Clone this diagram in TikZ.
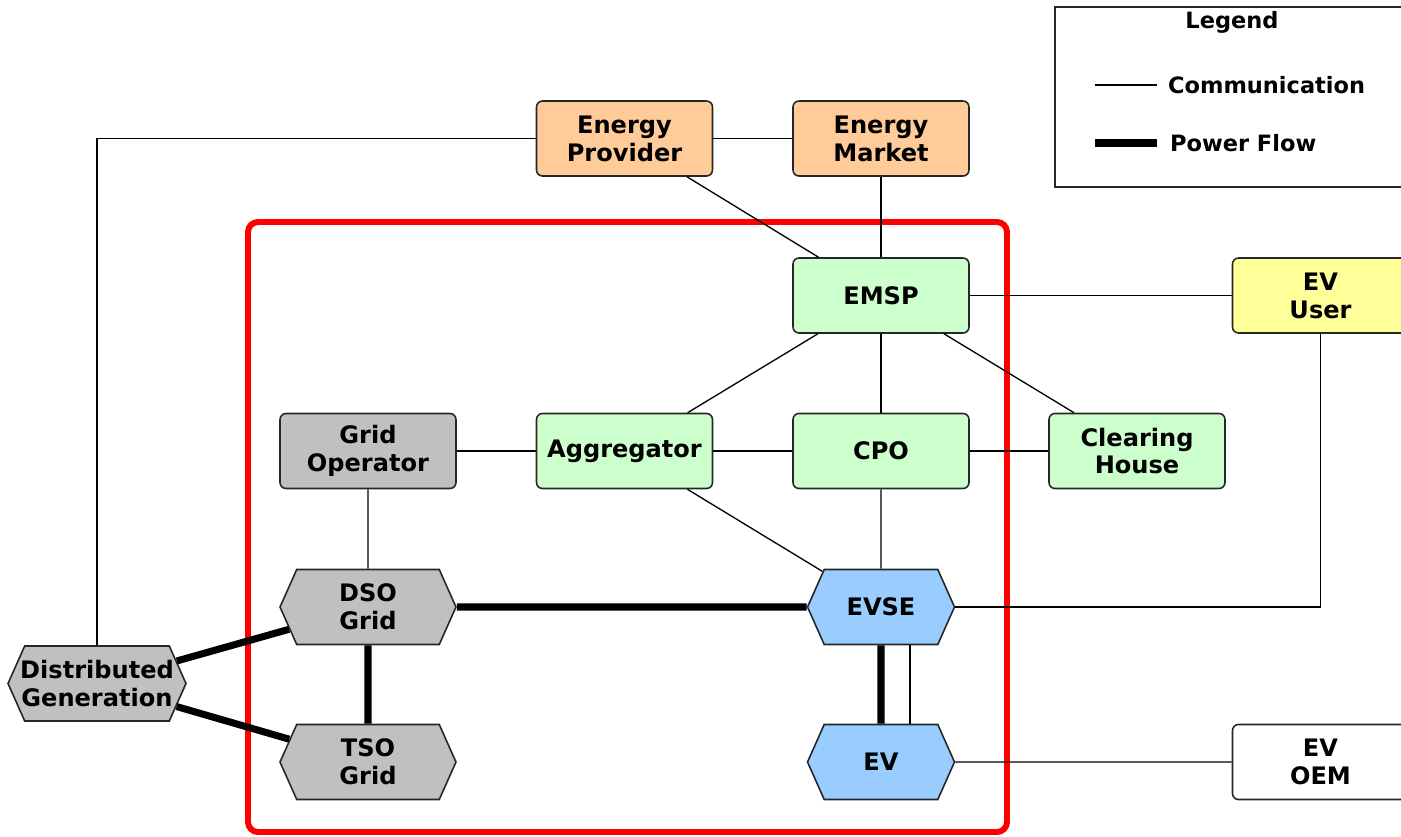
\documentclass[tikz,border=0pt]{standalone}
\usepackage{fontspec}
\setmainfont{DejaVu Sans}
\usetikzlibrary{shapes.symbols}

\definecolor{marketfill}{HTML}{FFCC99}
\definecolor{servicefill}{HTML}{CCFFCC}
\definecolor{gridfill}{HTML}{C0C0C0}
\definecolor{chargefill}{HTML}{99CCFF}
\definecolor{userfill}{HTML}{FFFF99}

\begin{document}
\begin{tikzpicture}[
    x=0.02cm, y=-0.02cm,
    font=\fontsize{13.7}{15.9}\selectfont\bfseries,
    every node/.style={align=center, inner sep=1pt},
    box/.style={draw=black!85, rounded corners=0.12cm, line width=0.9pt,
        minimum width=3.52cm, minimum height=1.5cm},
    hexa/.style={draw=black!85, signal, signal to=east and west,
        signal pointer angle=132, line width=0.9pt,
        minimum width=3.52cm, minimum height=1.5cm},
    market/.style={box, fill=marketfill},
    service/.style={box, fill=servicefill},
    gridop/.style={box, fill=gridfill},
    grid/.style={hexa, fill=gridfill},
    charge/.style={hexa, fill=chargefill, minimum width=2.94cm},
    comm/.style={line width=0.75pt},
    power/.style={line width=4pt},
    frame/.style={draw=red, line width=3.4pt, rounded corners=0.2cm},
    legendtext/.style={font=\fontsize{12.8}{15}\selectfont\bfseries}
]
\clip (0,0) rectangle (1401,836);
\useasboundingbox (0,0) rectangle (1401,836);

% Legend
\draw[line width=0.9pt, draw=black!85] (1055,7) rectangle (1410,187);
\node[legendtext] (legend) at (1232,22) {Legend};
\node[legendtext, anchor=west] (commtext) at (1166,85) {Communication};
\node[legendtext, anchor=west] (powertext) at (1168,143) {Power Flow};
\coordinate (comm1) at (1095,85);
\coordinate (comm2) at (1157,85);
\coordinate (power1) at (1095,143);
\coordinate (power2) at (1157,143);
\draw[comm] (comm1) -- (comm2);
\draw[power] (power1) -- (power2);

% Scope of the system
\draw[frame] (248,222) rectangle (1007,832);

% --- Market side
\node[market] (provider) at (624.5,138.5) {Energy\\Provider};
\node[market] (market) at (881,138.5) {Energy\\Market};

% --- Services
\node[service] (emsp) at (881,295.5) {EMSP};
\node[box, fill=userfill] (user) at (1320.5,295.5) {EV\\User};
\node[gridop] (operator) at (368,451) {Grid\\Operator};
\node[service] (aggregator) at (624.5,451) {Aggregator};
\node[service] (cpo) at (881,451) {CPO};
\node[service] (clearing) at (1137,451) {Clearing\\House};

% --- Grid and charging
\node[grid] (dso) at (368,607) {DSO\\Grid};
\node[grid] (tso) at (368,762) {TSO\\Grid};
\node[grid, inner xsep=-0.09cm] (dg) at (97,683.5) {Distributed\\Generation};
\node[charge] (evse) at (881,607) {EVSE};
\node[charge] (ev) at (881,762) {EV};
\node[box] (oem) at (1320.5,762) {EV\\OEM};

% Communication
\draw[comm] (provider.west) -| (dg.north);
\draw[comm] (provider) -- (market);
\draw[comm] (provider) -- (emsp);
\draw[comm] (market) -- (emsp);
\draw[comm] (emsp) -- (user);
\draw[comm] (emsp) -- (aggregator);
\draw[comm] (emsp) -- (cpo);
\draw[comm] (emsp) -- (clearing);
\draw[comm] (operator) -- (aggregator);
\draw[comm] (aggregator) -- (cpo);
\draw[comm] (cpo) -- (clearing);
\draw[comm] (operator) -- (dso);
\draw[comm] (aggregator) -- (evse);
\draw[comm] (cpo) -- (evse);
\draw[comm] (evse.east) -| (user.south);
\draw[comm] ([xshift=0.58cm]evse.south) -- ([xshift=0.58cm]ev.north);
\draw[comm] (ev) -- (oem);

% Power flow
\draw[power] (dso) -- (evse);
\draw[power] (evse) -- (ev);
\draw[power] (dso) -- (tso);
\draw[power] (dg) -- (dso);
\draw[power] (dg) -- (tso);
\end{tikzpicture}
\end{document}
